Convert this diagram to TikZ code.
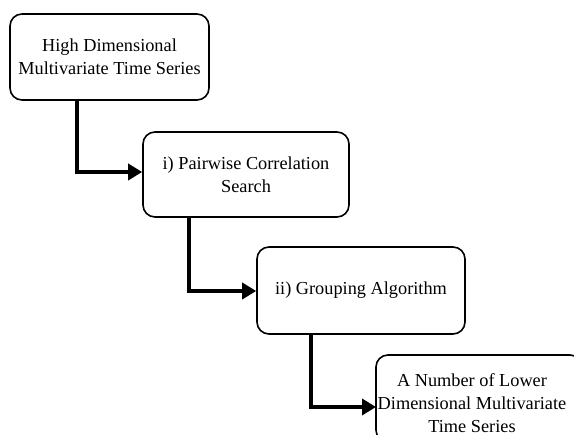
\documentclass[tikz,border=0pt]{standalone}
\usepackage{fontspec}
\setmainfont{Liberation Serif}
\usetikzlibrary{arrows.meta,calc}
\begin{document}
\begin{tikzpicture}[x=1pt,y=-1pt,
  txt/.style={align=center,font=\fontsize{18.3}{23}\selectfont,inner sep=0pt},
  box/.style={txt,draw,line width=1.6pt,rounded corners=12pt},
  flow/.style={line width=4pt,-{Triangle[length=14pt,width=16pt]}}]
\path[use as bounding box,clip] (0,0) rectangle (574,435);
\node[box,minimum width=199pt,minimum height=86pt] (b1) at (109.5,57) {High Dimensional\\Multivariate Time Series};
\node[box,minimum width=206pt,minimum height=85pt] (b2) at (246,174.5) {i) Pairwise Correlation\\Search};
\node[box,minimum width=208pt,minimum height=87pt] (b3) at (361,290.5) {ii) Grouping Algorithm};
\draw[line width=1.6pt,rounded corners=12pt] (376,355) rectangle (582,442);
\node[txt] (b4) at (472,403) {A Number of Lower\\Dimensional Multivariate\\Time Series};
\coordinate (b4w) at (376,407);
\coordinate (k1) at (77,172);
\coordinate (k2) at (189,291);
\draw[flow] (b1.south -| k1) |- (b2.west |- k1);
\draw[flow] (b2.south -| k2) |- (b3.west |- k2);
\draw[flow] (b3.south -| 311,0) |- (b4w);
\end{tikzpicture}
\end{document}
